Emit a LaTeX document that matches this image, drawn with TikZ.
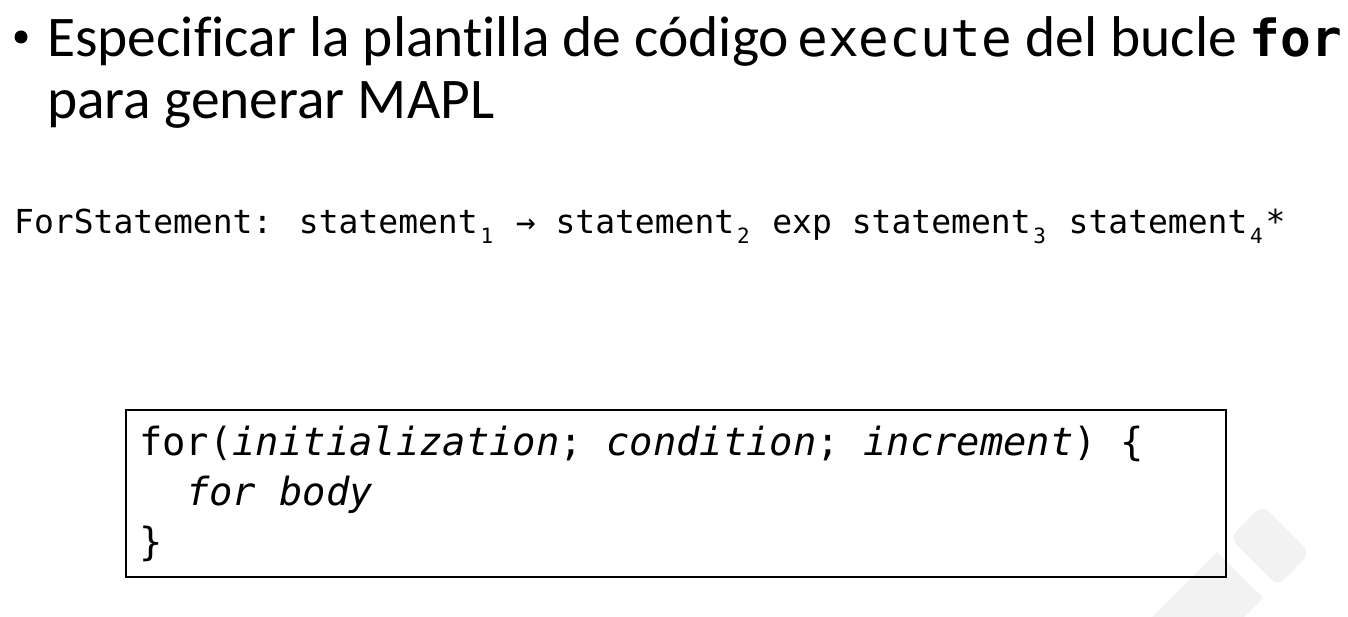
\documentclass[tikz,border=0pt]{standalone}
\usepackage{fontspec}
\setmainfont{Carlito}[Ligatures=NoCommon]
\newfontfamily\mono{DejaVu Sans Mono}
\definecolor{wm}{HTML}{F2F2F2}
\newcommand\sbs[1]{\makebox[0.55em][c]{\raisebox{-0.28em}{\fontsize{21}{21}\selectfont #1}}}
\tikzset{
  txt/.style={anchor=base west, inner sep=0pt},
  titlefont/.style={font=\fontsize{57.5}{57.5}\selectfont},
  gramfont/.style={font=\mono\fontsize{33}{33}\selectfont},
  codefont/.style={font=\mono\fontsize{38.8}{38.8}\selectfont},
  codebox/.style={draw, line width=2pt, inner sep=0pt, anchor=north west,
    minimum width=1100pt, minimum height=167pt},
  bulletdot/.style={circle, fill, inner sep=0pt, minimum size=13pt}
}
\begin{document}
\begin{tikzpicture}[x=1pt,y=-1pt]
\useasboundingbox[fill=white] (0,0) rectangle (1348,617);
% watermark
\fill[wm, rounded corners=9pt] (1262,505) -- (1310,553) -- (1278,586) -- (1230,538) -- cycle;
\fill[wm] (1217,552) -- (1263,598) -- (1244,617) -- (1152,617) -- cycle;
% title
\node[bulletdot] (bul) at (21,37) {};
\node[txt, titlefont] (t1) at (47,56.5) {Especificar la plantilla de código\hspace{-5pt} {\mono\fontsize{51}{51}\selectfont execute} del bucle {\mono\bfseries\fontsize{51}{51}\selectfont for}};
\node[txt, titlefont] (t2) at (47,118.5) {para generar MAPL};
% grammar
\node[txt, gramfont] (g) at (14,234) {ForStatement: statement\sbs{1} → statement\sbs{2} exp statement\sbs{3} statement\sbs{4}*};
% code box
\node[codebox] (box) at (125,409) {};
\node[txt, codefont] (c1) at (139,455) {for(\textit{initialization}; \textit{condition}; \textit{increment}) \{};
\node[txt, codefont] (c2) at (186,505) {\textit{for body}};
\node[txt, codefont] (c3) at (139,555) {\}};
\end{tikzpicture}
\end{document}
